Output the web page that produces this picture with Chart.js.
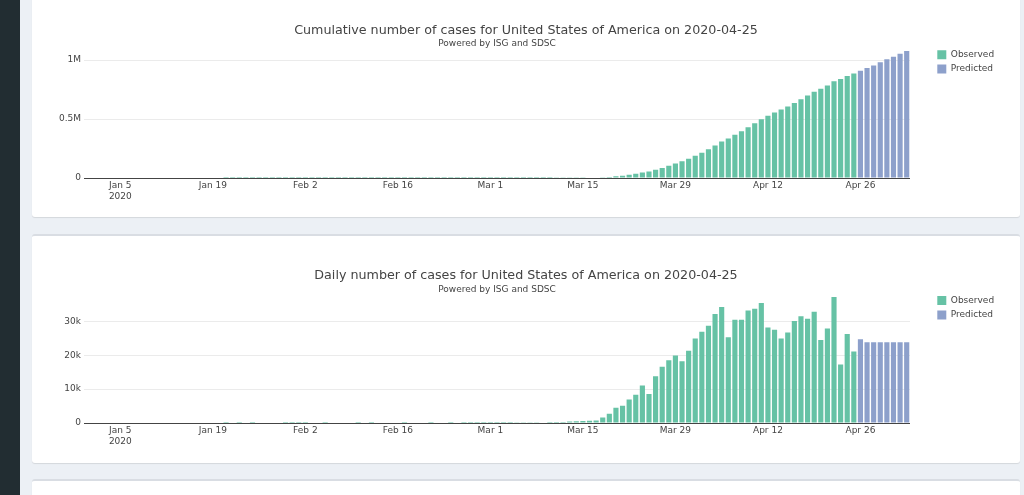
<!DOCTYPE html>
<html>
<head>
<meta charset="utf-8">
<script src="https://cdn.jsdelivr.net/npm/chart.js@4.4.0/dist/chart.umd.min.js"></script>
<style>
  html, body { margin: 0; padding: 0; width: 1024px; height: 495px; overflow: hidden; background: #ecf0f5; }
  .sidebar { position: absolute; left: 0; top: 0; width: 20px; height: 495px; background: #222d32; }
  .box { position: absolute; left: 32px; width: 988px; background: #fff; border-top: 2px solid #d9dde3; box-sizing: border-box; border-radius: 3px; box-shadow: 0 1px 1px rgba(0,0,0,0.1); }
  .wrap { position: absolute; left: 32px; width: 988px; }
</style>
</head>
<body>
<div class="sidebar"></div>
<div class="box" style="top:-11px;height:228px"></div>
<div class="box" style="top:234px;height:229px"></div>
<div class="box" style="top:479px;height:100px"></div>
<div class="wrap" style="top:-11px;height:228px"><canvas id="cum"></canvas></div>
<div class="wrap" style="top:234px;height:229px"><canvas id="daily"></canvas></div>
<script>
const FONT = "'DejaVu Sans', Verdana, sans-serif";

// one category per day, 2019-12-31 .. 2020-05-03
const monthNames = ['Jan', 'Feb', 'Mar', 'Apr', 'May'];
const dates = [];
for (let d = new Date(2019, 11, 31); d <= new Date(2020, 4, 3); d.setDate(d.getDate() + 1)) {
  dates.push((d.getFullYear() === 2019 ? 'Dec' : monthNames[d.getMonth()]) + ' ' + d.getDate());
}
const tickDates = ['Jan 5', 'Jan 19', 'Feb 2', 'Feb 16', 'Mar 1', 'Mar 15', 'Mar 29', 'Apr 12', 'Apr 26'];
const yearLabel = '2020';
const cumTicks = [0, 500000, 1000000];
const dailyTicks = [0, 10000, 20000, 30000];

// cumulative cases, Dec 31 .. Apr 25
const cumObserved = [
  0, 0, 0, 0, 0, 0, 0, 0, 0, 0, 0, 0, 0, 0, 0, 0, 0, 0, 0, 0, 0,
  1, 1, 2, 2, 5, 5, 5, 5, 5, 6, 7, 8, 11, 11, 11, 12, 12, 12, 12, 12,
  13, 13, 14, 14, 14, 14, 14, 15, 15, 15, 15, 35, 35, 35, 53, 53, 59, 60, 62, 68,
  78, 98, 123, 153, 213, 303, 413, 513, 673, 953, 1253, 1573, 2023, 2523, 3123, 3773,
  4523, 6500, 9500, 14000, 19500, 26500, 35000, 46000, 54500, 69000, 85500, 103500,
  123500, 141500, 162500,
  188000, 215000, 244000, 276000, 310000, 336000, 366000, 397000, 430000, 464000,
  499000, 527000, 555000, 580000, 606000, 636000, 668000, 699000, 731000, 756000,
  784000, 821000, 839000, 865000, 887000
];
// Apr 26 .. May 3
const cumPredicted = [909000, 932000, 955000, 981000, 1006000, 1028000, 1053000, 1076000];

// daily new cases, Dec 31 .. Apr 25
const dailyObserved = [
  0, 0, 0, 0, 0, 0, 0, 0, 0, 0, 0, 0, 0, 0, 0, 0, 0, 0, 0, 0, 0,
  1, 0, 1, 0, 3, 0, 0, 0, 0, 1, 1, 1, 3, 0, 0, 1, 0, 0, 0, 0,
  1, 0, 1, 0, 0, 0, 0, 1, 0, 0, 0, 20, 0, 0, 18, 0, 6, 1, 2, 6,
  10, 20, 25, 30, 60, 90, 110, 100, 160, 280, 300, 320, 450, 500, 600, 650,
  750, 1600, 2750, 4500, 5100, 6900, 8300, 11100, 8550, 13800, 16600, 18500,
  19900, 18200, 21300,
  24900, 26900, 28700, 32200, 34200, 25300, 30500, 30500, 33200, 33700,
  35400, 28200, 27500, 24900, 26700, 30100, 31500, 30800, 32800, 24500,
  27900, 37200, 17300, 26300, 21100
];
const dailyPredicted = [24700, 23800, 23800, 23800, 23800, 23800, 23800, 23800];

const GREEN = '#66c2a5';
const BLUE = '#8da0cb';
const SIDE = 15.9;

function makeChart(id, titleText, observed, predicted, yMax, yTicks, yFmt, axisH, subPad) {
  const n = dates.length;
  const obsData = observed.concat(new Array(n - observed.length).fill(null));
  const predData = new Array(n - predicted.length).fill(null).concat(predicted);
  return new Chart(document.getElementById(id), {
    type: 'bar',
    data: {
      labels: dates,
      datasets: [
        { label: 'Observed', data: obsData, backgroundColor: GREEN, hoverBackgroundColor: GREEN, borderWidth: 0 },
        { label: 'Predicted', data: predData, backgroundColor: BLUE, hoverBackgroundColor: BLUE, borderWidth: 0 }
      ]
    },
    options: {
      responsive: true,
      maintainAspectRatio: false,
      animation: false,
      devicePixelRatio: 1,
      layout: { padding: { left: SIDE, right: SIDE, top: 0, bottom: 0 } },
      datasets: { bar: { grouped: false, barPercentage: 0.78, categoryPercentage: 1 } },
      plugins: {
        title: {
          display: true,
          text: titleText,
          color: '#444',
          font: { family: FONT, size: 12.7, weight: 'normal' },
          padding: { top: 34.5, bottom: 0 }
        },
        subtitle: {
          display: true,
          text: 'Powered by ISG and SDSC',
          fullSize: false,
          color: '#444',
          font: { family: FONT, size: 9, weight: 'normal' },
          padding: subPad
        },
        legend: {
          position: 'right',
          align: 'start',
          fullSize: false,
          labels: {
            boxWidth: 9,
            boxHeight: 9,
            padding: 5.4,
            color: '#444',
            font: { family: FONT, size: 9, lineHeight: 1 }
          }
        },
        tooltip: { enabled: false }
      },
      scales: {
        x: {
          grid: { display: false, drawTicks: false },
          border: { display: false },
          ticks: {
            autoSkip: false,
            maxRotation: 0,
            padding: 2,
            color: '#444',
            font: { family: FONT, size: 9, lineHeight: 1.22 },
            callback: function (value, index) {
              const lab = dates[index];
              if (!tickDates.includes(lab)) return null;
              return index === 5 ? [lab, yearLabel] : lab;
            }
          },
          afterFit: function (s) { s.height = axisH; }
        },
        y: {
          min: 0,
          max: yMax,
          grid: {
            drawTicks: false,
            color: ctx => (ctx.tick && ctx.tick.value === 0 ? '#444' : '#ebebeb')
          },
          border: { display: false },
          ticks: {
            padding: 3,
            color: '#444',
            font: { family: FONT, size: 9 },
            callback: yFmt
          },
          afterBuildTicks: function (s) { s.ticks = yTicks.map(v => ({ value: v })); },
          afterFit: function (s) { s.width = 52 - SIDE; }
        },
        // spacer between plot and legend
        gap: {
          type: 'linear',
          axis: 'y',
          position: 'right',
          grid: { display: false },
          border: { display: false },
          ticks: { display: false },
          afterFit: function (s) { s.width = 21.9; }
        }
      }
    }
  });
}

makeChart('cum', 'Cumulative number of cases for United States of America on 2020-04-25',
  cumObserved, cumPredicted, 1130000, cumTicks,
  v => (v === 0 ? '0' : (v / 1e6) + 'M'), 39, { top: -0.9, bottom: -3.9 });

makeChart('daily', 'Daily number of cases for United States of America on 2020-04-25',
  dailyObserved, dailyPredicted, 39060, dailyTicks,
  v => (v === 0 ? '0' : (v / 1000) + 'k'), 40, { top: 0.1, bottom: -4.0 });
</script>
</body>
</html>
